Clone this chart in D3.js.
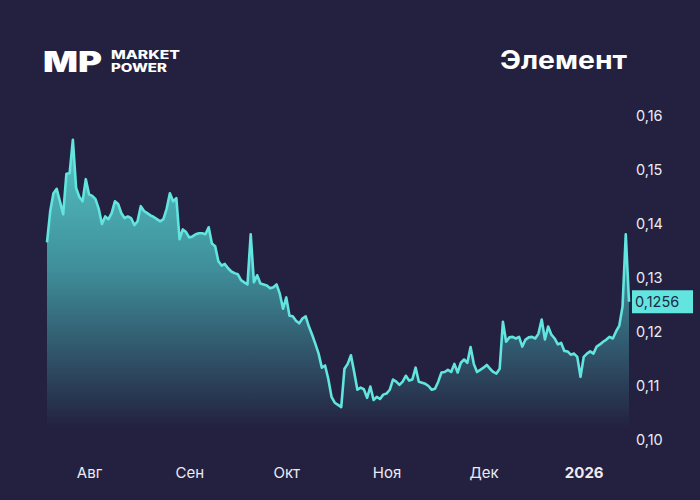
<!DOCTYPE html>
<html>
<head>
<meta charset="utf-8">
<script src="https://cdn.jsdelivr.net/npm/d3@7"></script>
<style>
  html, body { margin: 0; padding: 0; background: #23213f; }
  svg { display: block; }
</style>
</head>
<body>
<div id="chart"></div>
<script>
let width = 700;
let height = 500;

// first day of the series, one value per calendar day after it
let startDay = "2025-07-19";

let prices = [
  0.1366, 0.1424, 0.1457, 0.1465, 0.1442, 0.1418, 0.1493, 0.1494, 0.1556, 0.1467,
  0.1450, 0.1442, 0.1483, 0.1455, 0.1452, 0.1446, 0.1428, 0.1400, 0.1414, 0.1409,
  0.1420, 0.1442, 0.1437, 0.1420, 0.1411, 0.1414, 0.1411, 0.1398, 0.1405, 0.1433,
  0.1424, 0.1420, 0.1416, 0.1413, 0.1409, 0.1405, 0.1409, 0.1428, 0.1457, 0.1442,
  0.1448, 0.1372, 0.1390, 0.1385, 0.1375, 0.1377, 0.1381, 0.1383, 0.1383, 0.1381,
  0.1394, 0.1364, 0.1359, 0.1331, 0.1323, 0.1326, 0.1318, 0.1312, 0.1309, 0.1307,
  0.1296, 0.1292, 0.1288, 0.1381, 0.1292, 0.1305, 0.1290, 0.1288, 0.1286, 0.1281,
  0.1283, 0.1288, 0.1271, 0.1243, 0.1264, 0.1230, 0.1229, 0.1221, 0.1216, 0.1225,
  0.1229, 0.1210, 0.1195, 0.1178, 0.1160, 0.1134, 0.1138, 0.1113, 0.1080, 0.1069,
  0.1065, 0.1061, 0.1132, 0.1141, 0.1157, 0.1126, 0.1093, 0.1097, 0.1094, 0.1078,
  0.1099, 0.1074, 0.1080, 0.1076, 0.1084, 0.1086, 0.1093, 0.1112, 0.1108, 0.1102,
  0.1108, 0.1119, 0.1110, 0.1112, 0.1134, 0.1108, 0.1106, 0.1104, 0.1100, 0.1093,
  0.1095, 0.1108, 0.1125, 0.1126, 0.1130, 0.1126, 0.1141, 0.1125, 0.1143, 0.1149,
  0.1143, 0.1172, 0.1141, 0.1126, 0.1130, 0.1134, 0.1139, 0.1132, 0.1126, 0.1123,
  0.1132, 0.1219, 0.1182, 0.1190, 0.1191, 0.1188, 0.1191, 0.1173, 0.1186, 0.1190,
  0.1191, 0.1188, 0.1197, 0.1223, 0.1186, 0.1210, 0.1195, 0.1188, 0.1177, 0.1180,
  0.1165, 0.1164, 0.1158, 0.1160, 0.1154, 0.1117, 0.1154, 0.1160, 0.1164, 0.1160,
  0.1173, 0.1177, 0.1182, 0.1186, 0.1191, 0.1188, 0.1201, 0.1212, 0.1247, 0.1381,
  0.1256
];

let lastPrice = 0.1256;

let monthTicks = ["2025-08-01", "2025-09-01", "2025-10-01", "2025-11-01", "2025-12-01", "2026-01-01"];
let monthLabels = ["Авг", "Сен", "Окт", "Ноя", "Дек", "2026"];

let priceTicks = [0.10, 0.11, 0.12, 0.13, 0.14, 0.15, 0.16];

let title = "Элемент";

// ---------------------------------------------------------------

let parseDay = d3.timeParse("%Y-%m-%d");
let day0 = parseDay(startDay);
let series = prices.map(function(v, i) {
  return { date: d3.timeDay.offset(day0, i), value: v };
});
let tickDates = monthTicks.map(parseDay);

let x = d3.scaleTime()
  .domain(d3.extent(series, function(d) { return d.date; }))
  .range([47, 629]);

let y = d3.scaleLinear()
  .domain([0.10, 0.16])
  .range([440, 116]);

let commaFmt = function(f) {
  return function(d) { return d3.format(f)(d).replace(".", ","); };
};

let svg = d3.select("#chart")
  .append("svg")
  .attr("width", width)
  .attr("height", height);

svg.append("rect")
  .attr("width", width)
  .attr("height", height)
  .attr("fill", "#23213f");

let defs = svg.append("defs");
let grad = defs.append("linearGradient")
  .attr("id", "fillGrad")
  .attr("gradientUnits", "userSpaceOnUse")
  .attr("x1", 0).attr("x2", 0)
  .attr("y1", y(0.156)).attr("y2", y(0.10) - 12);
grad.append("stop").attr("offset", 0).attr("stop-color", "#55c6c4");
grad.append("stop").attr("offset", 0.45).attr("stop-color", "#3f8f9a");
grad.append("stop").attr("offset", 1).attr("stop-color", "#23213f");

let area = d3.area()
  .x(function(d) { return x(d.date); })
  .y0(y(0.10) - 12)
  .y1(function(d) { return y(d.value); });

let line = d3.line()
  .x(function(d) { return x(d.date); })
  .y(function(d) { return y(d.value); });

svg.append("path")
  .datum(series)
  .attr("d", area)
  .attr("fill", "url(#fillGrad)");

svg.append("path")
  .datum(series)
  .attr("d", line)
  .attr("fill", "none")
  .attr("stroke", "#62e4df")
  .attr("stroke-width", 2.6)
  .attr("stroke-linejoin", "round");

// y axis on the right
let yAxis = svg.append("g")
  .attr("transform", "translate(636,0)")
  .call(d3.axisRight(y)
    .tickValues(priceTicks)
    .tickSize(0)
    .tickPadding(0)
    .tickFormat(commaFmt(".2f")));
yAxis.select(".domain").remove();
yAxis.selectAll("text")
  .attr("fill", "#ecebf3")
  .style("font-family", "Inter, 'Open Sans', sans-serif")
  .style("font-size", "14.5px");

// x axis
let xAxis = svg.append("g")
  .attr("transform", "translate(0,467)")
  .call(d3.axisBottom(x)
    .tickValues(tickDates)
    .tickSize(0)
    .tickPadding(0)
    .tickFormat(function(d, i) { return monthLabels[i]; }));
xAxis.select(".domain").remove();
xAxis.selectAll("text")
  .attr("fill", "#ecebf3")
  .style("font-family", "Inter, 'Open Sans', sans-serif")
  .style("font-size", "15px")
  .style("font-weight", function(d, i) { return i === monthLabels.length - 1 ? 700 : 400; });

// last price marker
let tag = svg.append("g")
  .attr("transform", "translate(632," + y(lastPrice) + ")");
tag.append("rect")
  .attr("x", 0).attr("y", -11.5)
  .attr("width", 61).attr("height", 23)
  .attr("fill", "#62e4df");
tag.append("text")
  .attr("x", 3).attr("dy", "0.35em")
  .attr("fill", "#1e2a45")
  .style("font-family", "Inter, 'Open Sans', sans-serif")
  .style("font-size", "14.5px")
  .text(commaFmt(".4f")(lastPrice));

// title
svg.append("text")
  .attr("x", 627).attr("y", 69)
  .attr("text-anchor", "end")
  .attr("fill", "#ffffff")
  .style("font-family", "Inter, 'Open Sans', sans-serif")
  .style("font-size", "25px")
  .style("font-weight", 700)
  .attr("textLength", 127)
  .attr("lengthAdjust", "spacingAndGlyphs")
  .text(title);

// logo
let logo = svg.append("g");
logo.append("text")
  .attr("x", 43).attr("y", 72)
  .attr("fill", "#ffffff")
  .style("font-family", "Inter, 'DejaVu Sans', sans-serif")
  .style("font-size", "28px")
  .style("font-weight", 900)
  .attr("textLength", 59)
  .attr("lengthAdjust", "spacingAndGlyphs")
  .text("MP");
logo.append("text")
  .attr("x", 111).attr("y", 59)
  .attr("fill", "#ffffff")
  .style("font-family", "Inter, 'DejaVu Sans', sans-serif")
  .style("font-size", "11.5px")
  .style("font-weight", 800)
  .attr("textLength", 69)
  .attr("lengthAdjust", "spacingAndGlyphs")
  .text("MARKET");
logo.append("text")
  .attr("x", 111).attr("y", 72)
  .attr("fill", "#ffffff")
  .style("font-family", "Inter, 'DejaVu Sans', sans-serif")
  .style("font-size", "11.5px")
  .style("font-weight", 800)
  .attr("textLength", 56)
  .attr("lengthAdjust", "spacingAndGlyphs")
  .text("POWER");
</script>
</body>
</html>
